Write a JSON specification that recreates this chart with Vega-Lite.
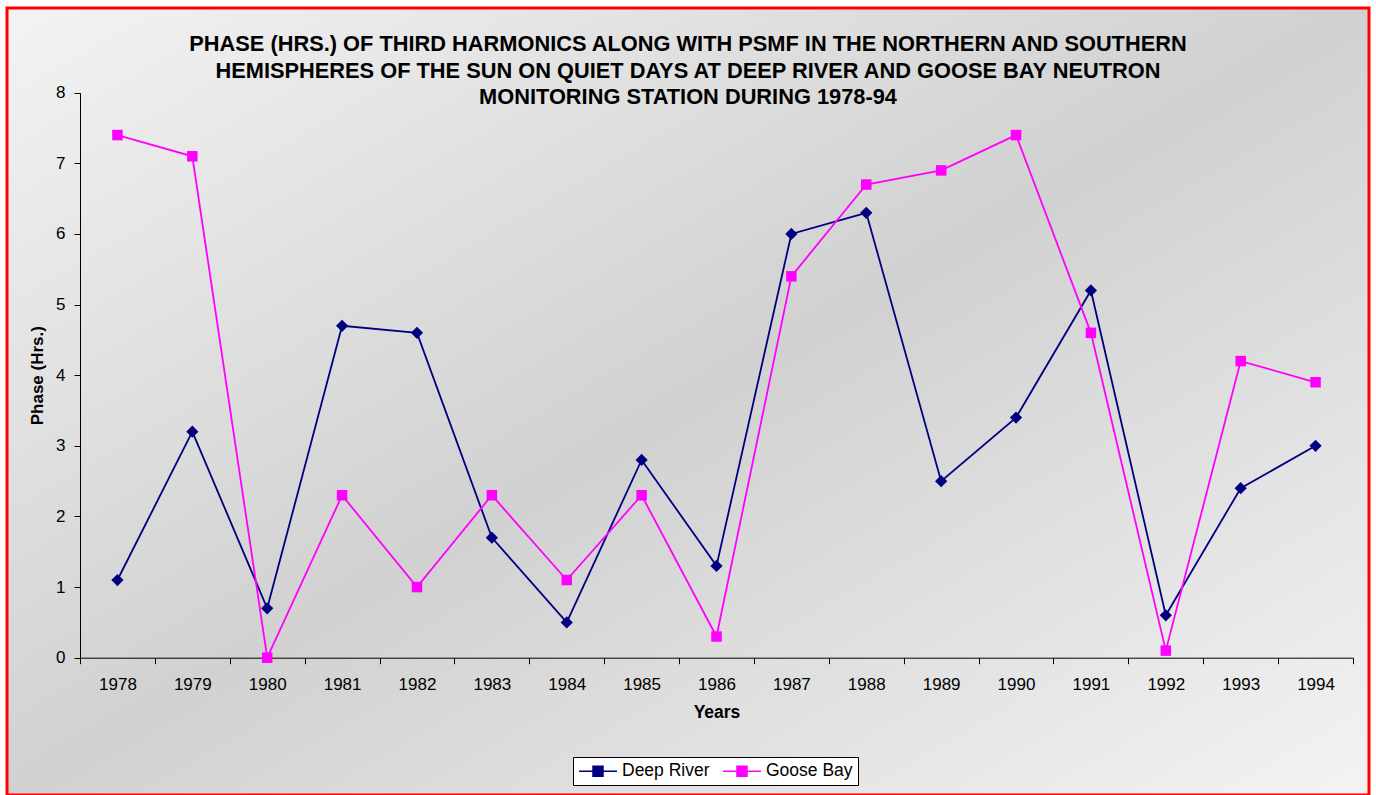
{
  "$schema": "https://vega.github.io/schema/vega-lite/v6.json",
  "width": 1362,
  "height": 787,
  "autosize": {"type": "none"},
  "padding": {"left": 7, "top": 8, "right": 7, "bottom": 0},
  "background": "#ffffff",
  "view": {
    "fill": {"gradient": "linear", "x1": 0, "y1": 0, "x2": 1, "y2": 1, "stops": [{"offset": 0, "color": "#f3f3f3"}, {"offset": 0.5, "color": "#d1d1d1"}, {"offset": 1, "color": "#f3f3f3"}]},
    "stroke": "#ff0000",
    "strokeWidth": 3
  },
  "title": {
    "text": ["PHASE (HRS.) OF THIRD HARMONICS ALONG WITH PSMF IN THE NORTHERN AND SOUTHERN", "HEMISPHERES OF THE SUN ON QUIET DAYS AT DEEP RIVER AND GOOSE BAY NEUTRON", "MONITORING STATION DURING 1978-94"],
    "font": "Liberation Sans",
    "fontSize": 21.8,
    "fontWeight": "bold",
    "color": "#000000",
    "anchor": "middle",
    "frame": "group",
    "baseline": "top",
    "lineHeight": 26.5,
    "offset": -101
  },
  "data": {
    "values": [
      {"year": 1978, "series": "Deep River", "phase": 1.1},
      {"year": 1979, "series": "Deep River", "phase": 3.2},
      {"year": 1980, "series": "Deep River", "phase": 0.7},
      {"year": 1981, "series": "Deep River", "phase": 4.7},
      {"year": 1982, "series": "Deep River", "phase": 4.6},
      {"year": 1983, "series": "Deep River", "phase": 1.7},
      {"year": 1984, "series": "Deep River", "phase": 0.5},
      {"year": 1985, "series": "Deep River", "phase": 2.8},
      {"year": 1986, "series": "Deep River", "phase": 1.3},
      {"year": 1987, "series": "Deep River", "phase": 6.0},
      {"year": 1988, "series": "Deep River", "phase": 6.3},
      {"year": 1989, "series": "Deep River", "phase": 2.5},
      {"year": 1990, "series": "Deep River", "phase": 3.4},
      {"year": 1991, "series": "Deep River", "phase": 5.2},
      {"year": 1992, "series": "Deep River", "phase": 0.6},
      {"year": 1993, "series": "Deep River", "phase": 2.4},
      {"year": 1994, "series": "Deep River", "phase": 3.0},
      {"year": 1978, "series": "Goose Bay", "phase": 7.4},
      {"year": 1979, "series": "Goose Bay", "phase": 7.1},
      {"year": 1980, "series": "Goose Bay", "phase": 0.0},
      {"year": 1981, "series": "Goose Bay", "phase": 2.3},
      {"year": 1982, "series": "Goose Bay", "phase": 1.0},
      {"year": 1983, "series": "Goose Bay", "phase": 2.3},
      {"year": 1984, "series": "Goose Bay", "phase": 1.1},
      {"year": 1985, "series": "Goose Bay", "phase": 2.3},
      {"year": 1986, "series": "Goose Bay", "phase": 0.3},
      {"year": 1987, "series": "Goose Bay", "phase": 5.4},
      {"year": 1988, "series": "Goose Bay", "phase": 6.7},
      {"year": 1989, "series": "Goose Bay", "phase": 6.9},
      {"year": 1990, "series": "Goose Bay", "phase": 7.4},
      {"year": 1991, "series": "Goose Bay", "phase": 4.6},
      {"year": 1992, "series": "Goose Bay", "phase": 0.1},
      {"year": 1993, "series": "Goose Bay", "phase": 4.2},
      {"year": 1994, "series": "Goose Bay", "phase": 3.9}
    ]
  },
  "encoding": {
    "x": {
      "field": "year",
      "type": "ordinal",
      "scale": {"type": "band", "paddingInner": 0, "paddingOuter": 0, "range": [73, 1346]},
      "axis": {
        "title": "Years",
        "titleFont": "Liberation Sans",
        "titleFontSize": 17.5,
        "titleFontWeight": "bold",
        "titleColor": "#000000",
        "titlePadding": 11,
        "labelAngle": 0,
        "labelFont": "Liberation Sans",
        "labelFontSize": 17,
        "labelColor": "#000000",
        "labelPadding": 13,
        "tickSize": 6,
        "tickColor": "#000000",
        "domainColor": "#000000",
        "tickBand": "extent",
        "offset": -137.3,
        "grid": false
      }
    },
    "y": {
      "field": "phase",
      "type": "quantitative",
      "scale": {"domain": [0, 8], "nice": false, "zero": false, "range": [649.7, 84.7]},
      "axis": {
        "title": "Phase (Hrs.)",
        "values": [0, 1, 2, 3, 4, 5, 6, 7, 8],
        "titleFont": "Liberation Sans",
        "titleFontSize": 17,
        "titleFontWeight": "bold",
        "titleColor": "#000000",
        "titlePadding": 9,
        "labelFont": "Liberation Sans",
        "labelFontSize": 17,
        "labelColor": "#000000",
        "labelPadding": 9,
        "tickSize": 6,
        "tickColor": "#000000",
        "domainColor": "#000000",
        "offset": -73,
        "grid": false
      }
    }
  },
  "layer": [
    {
      "mark": {"type": "line", "strokeWidth": 1.8},
      "encoding": {
        "color": {
          "field": "series",
          "type": "nominal",
          "scale": {"domain": ["Deep River", "Goose Bay"], "range": ["#000080", "#ff00ff"]}
        }
      }
    },
    {
      "transform": [{"filter": "datum.series === 'Deep River'"}],
      "mark": {"type": "point", "filled": true, "opacity": 1, "shape": "diamond", "size": 150},
      "encoding": {
        "color": {
          "field": "series",
          "type": "nominal",
          "scale": {"domain": ["Deep River", "Goose Bay"], "range": ["#000080", "#ff00ff"]},
          "legend": {
            "orient": "none",
            "legendX": 566,
            "legendY": 749,
            "direction": "horizontal",
            "title": null,
            "strokeColor": "#000000",
            "fillColor": "#ffffff",
            "padding": 5,
            "cornerRadius": 0,
            "labelFont": "Liberation Sans",
            "labelFontSize": 17.5,
            "labelColor": "#000000",
            "symbolSize": 256,
            "symbolStrokeWidth": 1.5,
            "symbolType": "M-1,0L3.75,0M0.75,-0.625L2,-0.625L2,0.625L0.75,0.625ZM0.935,-0.44L1.815,-0.44L1.815,0.44L0.935,0.44ZM1.125,-0.25L1.625,-0.25L1.625,0.25L1.125,0.25ZM1.295,-0.08L1.455,-0.08L1.455,0.08L1.295,0.08Z",
            "labelOffset": 26,
            "columnPadding": 10
          }
        }
      }
    },
    {
      "transform": [{"filter": "datum.series === 'Goose Bay'"}],
      "mark": {"type": "point", "filled": true, "opacity": 1, "shape": "square", "size": 110},
      "encoding": {
        "color": {
          "field": "series",
          "type": "nominal",
          "scale": {"domain": ["Deep River", "Goose Bay"], "range": ["#000080", "#ff00ff"]}
        }
      }
    }
  ]
}
